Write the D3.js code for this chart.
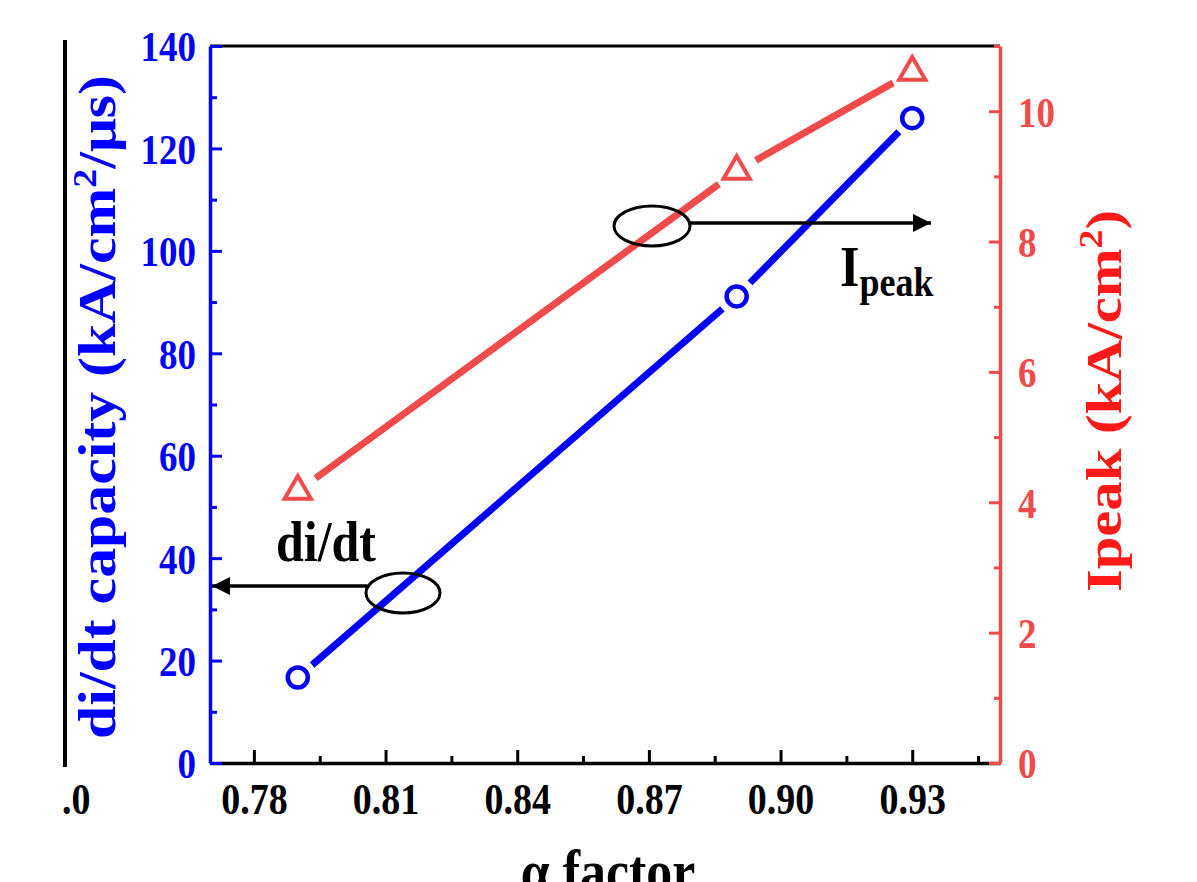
<!DOCTYPE html>
<html>
<head>
<meta charset="utf-8">
<script src="https://cdn.jsdelivr.net/npm/d3@7"></script>
<style>
  body { margin: 0; background: #fff; }
  text { font-family: "Liberation Serif", "Times New Roman", serif; font-weight: bold; }
</style>
</head>
<body>
<script>
        // data
        var alpha = [0.79, 0.89, 0.93]
        var didt = [16.7, 91.1, 125.9]
        var ipeak = [4.17, 9.08, 10.6]

        var xTicks = [0.78, 0.81, 0.84, 0.87, 0.90, 0.93]
        var xMinor = [0.795, 0.825, 0.855, 0.885, 0.915, 0.945]
        var leftTicks = [0, 20, 40, 60, 80, 100, 120, 140]
        var leftMinor = [10, 30, 50, 70, 90, 110, 130]
        var rightTicks = [0, 2, 4, 6, 8, 10]
        var rightMinor = [1, 3, 5, 7, 9, 11]

        var width = 1197
        var height = 882
        var m = {left: 210, right: 197, top: 46, bottom: 119}
        var stretch = 1.15 // text in the picture is a bit taller than normal

        var blue = "#0000ff"
        var red = "#f04a4a"
        var redText = "#ff1a1a"

        var svg = d3.select("body")
            .append("svg")
            .attr("width", width)
            .attr("height", height)

        var x = d3.scaleLinear().domain([0.77, 0.95]).range([m.left, width - m.right])
        var yL = d3.scaleLinear().domain([0, 140]).range([height - m.bottom, m.top])
        var yR = d3.scaleLinear().domain([0, 11]).range([height - m.bottom, m.top])

        //move text x/y into a transform so it can be stretched vertically
        function stretchText(sel) {
            sel.each(function() {
                var t = d3.select(this)
                var tx = +t.attr("x") || 0
                var ty = +t.attr("y") || 0
                t.attr("x", 0).attr("y", 0)
                    .attr("transform", "translate(" + tx + "," + ty + ") scale(1," + stretch + ")")
            })
        }

        function label(px, py, size, anchor, color, rot) {
            var g = svg.append("g")
                .attr("transform", "translate(" + px + "," + py + ") scale(1," + stretch + ")")
            var t = g.append("text")
                .attr("font-size", size)
                .attr("text-anchor", anchor)
                .attr("fill", color)
            if (rot) t.attr("transform", "rotate(" + rot + ")")
            return t
        }

        // stray bits of the neighbouring figure
        svg.append("line")
            .attr("x1", 65).attr("x2", 65).attr("y1", 40).attr("y2", 767)
            .attr("stroke", "#000").attr("stroke-width", 4)
        label(62, 799, 38, "start", "#000").attr("dy", "0.35em").text(".0")

        // top frame line
        svg.append("line")
            .attr("x1", m.left).attr("x2", width - m.right)
            .attr("y1", m.top).attr("y2", m.top)
            .attr("stroke", "#000").attr("stroke-width", 3)

        // bottom axis
        var bottomY = height - m.bottom
        var xAxis = svg.append("g").attr("transform", "translate(0," + bottomY + ")")
            .call(d3.axisBottom(x).tickValues(xTicks).tickSize(-13).tickSizeOuter(0)
                .tickFormat(d3.format(".2f")))
        svg.append("g").attr("transform", "translate(0," + bottomY + ")")
            .call(d3.axisBottom(x).tickValues(xMinor).tickSize(-7).tickSizeOuter(0).tickFormat(""))
            .select(".domain").remove()
        svg.selectAll("g.tick line").attr("stroke", "#000").attr("stroke-width", 3)
        xAxis.select(".domain").attr("stroke", "#000").attr("stroke-width", 3.5)
        xAxis.selectAll("text")
            .attr("font-size", 38).attr("fill", "#000")
            .attr("y", 36).attr("dy", "0.35em")
            .call(stretchText)

        // left axis (blue)
        var leftAxis = svg.append("g").attr("transform", "translate(" + m.left + ",0)")
            .call(d3.axisLeft(yL).tickValues(leftTicks).tickSize(-12).tickSizeOuter(0))
        var leftMin = svg.append("g").attr("transform", "translate(" + m.left + ",0)")
            .call(d3.axisLeft(yL).tickValues(leftMinor).tickSize(-7).tickSizeOuter(0).tickFormat(""))
        leftMin.select(".domain").remove()
        leftAxis.selectAll("line").attr("stroke", blue).attr("stroke-width", 3)
        leftMin.selectAll("line").attr("stroke", blue).attr("stroke-width", 3)
        leftAxis.select(".domain").attr("stroke", blue).attr("stroke-width", 3.5)
        leftAxis.selectAll("text")
            .attr("font-size", 37).attr("fill", blue)
            .attr("x", -14).attr("dy", "0.35em")
            .call(stretchText)

        // right axis (red)
        var rightX = width - m.right
        var rightAxis = svg.append("g").attr("transform", "translate(" + rightX + ",0)")
            .call(d3.axisRight(yR).tickValues(rightTicks).tickSize(-11).tickSizeOuter(0))
        var rightMin = svg.append("g").attr("transform", "translate(" + rightX + ",0)")
            .call(d3.axisRight(yR).tickValues(rightMinor).tickSize(-6).tickSizeOuter(0).tickFormat(""))
        rightMin.select(".domain").remove()
        rightAxis.selectAll("line").attr("stroke", red).attr("stroke-width", 3)
        rightMin.selectAll("line").attr("stroke", red).attr("stroke-width", 3)
        rightAxis.select(".domain").attr("stroke", red).attr("stroke-width", 3.5)
        rightAxis.selectAll("text")
            .attr("font-size", 37).attr("fill", red)
            .attr("x", 18).attr("dy", "0.35em")
            .call(stretchText)

        // lines with a gap around each marker
        function gapLine(xs, ys, yScale, gap, color) {
            for (var i = 0; i < xs.length - 1; i++) {
                var x1 = x(xs[i]), y1 = yScale(ys[i])
                var x2 = x(xs[i + 1]), y2 = yScale(ys[i + 1])
                var len = Math.hypot(x2 - x1, y2 - y1)
                var ux = (x2 - x1) / len, uy = (y2 - y1) / len
                svg.append("line")
                    .attr("x1", x1 + ux * gap).attr("y1", y1 + uy * gap)
                    .attr("x2", x2 - ux * gap).attr("y2", y2 - uy * gap)
                    .attr("stroke", color).attr("stroke-width", 7)
            }
        }

        var bluePts = alpha.map(function(a, i) { return [a, didt[i]] })
        var redPts = alpha.map(function(a, i) { return [a, ipeak[i]] })

        gapLine(alpha, ipeak, yR, 22, red)
        gapLine(alpha, didt, yL, 19, blue)

        svg.selectAll(".tri")
            .data(redPts)
            .enter()
            .append("path")
            .attr("class", "tri")
            .attr("d", d3.symbol().type(d3.symbolTriangle).size(300))
            .attr("transform", function(d) { return "translate(" + x(d[0]) + "," + yR(d[1]) + ")" })
            .attr("fill", "#fff").attr("stroke", red).attr("stroke-width", 4)

        svg.selectAll(".dot")
            .data(bluePts)
            .enter()
            .append("circle")
            .attr("class", "dot")
            .attr("cx", function(d) { return x(d[0]) })
            .attr("cy", function(d) { return yL(d[1]) })
            .attr("r", 10)
            .attr("fill", "#fff").attr("stroke", blue).attr("stroke-width", 4.5)

        // annotations
        var defs = svg.append("defs")
        defs.append("marker")
            .attr("id", "head")
            .attr("viewBox", "0 0 10 10")
            .attr("refX", 10).attr("refY", 5)
            .attr("markerUnits", "userSpaceOnUse")
            .attr("markerWidth", 28).attr("markerHeight", 18)
            .attr("orient", "auto")
            .append("path").attr("d", "M0,0 L10,5 L0,10 Z").attr("fill", "#000")

        svg.append("ellipse")
            .attr("cx", 652).attr("cy", 226).attr("rx", 38).attr("ry", 20)
            .attr("fill", "none").attr("stroke", "#000").attr("stroke-width", 3)
        svg.append("line")
            .attr("x1", 690).attr("y1", 223).attr("x2", 931).attr("y2", 223)
            .attr("stroke", "#000").attr("stroke-width", 3.5)
            .attr("marker-end", "url(#head)")
        var ip = label(840, 286, 50, "start", "#000")
        ip.append("tspan").text("I")
        ip.append("tspan").attr("font-size", 36).attr("dy", 9).text("peak")

        svg.append("ellipse")
            .attr("cx", 403).attr("cy", 593).attr("rx", 37).attr("ry", 20)
            .attr("fill", "none").attr("stroke", "#000").attr("stroke-width", 3)
        svg.append("line")
            .attr("x1", 367).attr("y1", 586).attr("x2", 212).attr("y2", 586)
            .attr("stroke", "#000").attr("stroke-width", 3.5)
            .attr("marker-end", "url(#head)")
        label(326, 561, 50, "middle", "#000").text("di/dt")

        // axis titles
        var lt = label(115, 407, 52, "middle", blue, -90)
        lt.append("tspan").text("di/dt capacity (kA/cm")
        lt.append("tspan").attr("font-size", 33).attr("dy", -19).text("2")
        lt.append("tspan").attr("dy", 19).text("/μs)")

        var rt = label(1121, 401, 51, "middle", redText, -90)
        rt.append("tspan").text("Ipeak (kA/cm")
        rt.append("tspan").attr("font-size", 33).attr("dy", -19).text("2")
        rt.append("tspan").attr("dy", 19).text(")")

        label(608, 891, 52, "middle", "#000").text("α factor")
</script>
</body>
</html>
